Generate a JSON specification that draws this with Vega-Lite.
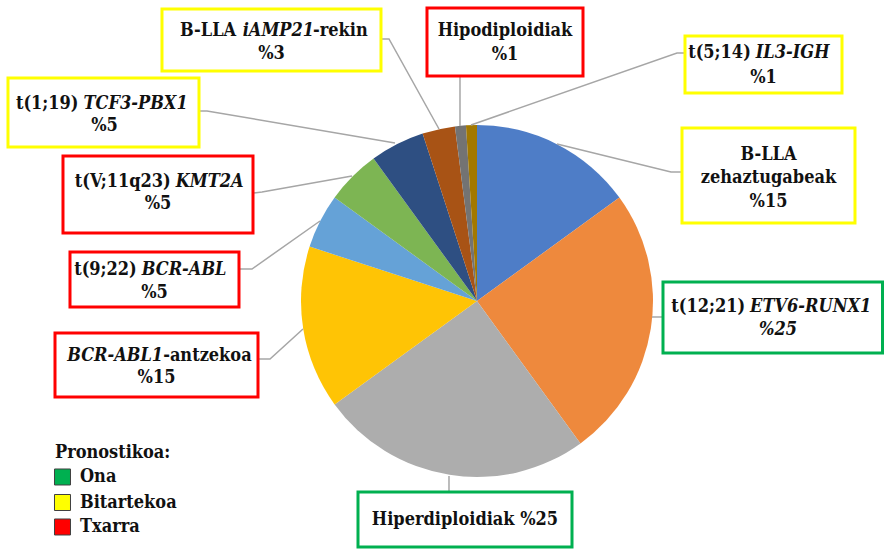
{
  "$schema": "https://vega.github.io/schema/vega-lite/v6.json",
  "width": 885,
  "height": 549,
  "autosize": {"type": "fit", "contains": "padding"},
  "padding": 0,
  "background": "white",
  "config": {"view": {"stroke": null}, "text": {"font": "DejaVu Serif Condensed", "fontSize": 18, "fontWeight": "bold", "baseline": "middle", "color": "#111111"}},
  "datasets": {
    "slices": [
      {"name": "B-LLA zehaztugabeak", "value": 15, "idx": 1},
      {"name": "t(12;21) ETV6-RUNX1", "value": 25, "idx": 2},
      {"name": "Hiperdiploidiak", "value": 25, "idx": 3},
      {"name": "BCR-ABL1-antzekoa", "value": 15, "idx": 4},
      {"name": "t(9;22) BCR-ABL", "value": 5, "idx": 5},
      {"name": "t(V;11q23) KMT2A", "value": 5, "idx": 6},
      {"name": "t(1;19) TCF3-PBX1", "value": 5, "idx": 7},
      {"name": "B-LLA iAMP21-rekin", "value": 3, "idx": 8},
      {"name": "Hipodiploidiak", "value": 1, "idx": 9},
      {"name": "t(5;14) IL3-IGH", "value": 1, "idx": 10}
    ],
    "boxes": [
      {"id": "A", "prognosis": "Bitartekoa", "x": -178.98, "x2": -54.55, "y": 165.91, "y2": 130.68},
      {"id": "B", "prognosis": "Txarra", "x": -28.41, "x2": 60.23, "y": 166.48, "y2": 127.84},
      {"id": "C", "prognosis": "Bitartekoa", "x": 118.18, "x2": 207.39, "y": 150.57, "y2": 118.18},
      {"id": "D", "prognosis": "Bitartekoa", "x": 116.48, "x2": 214.77, "y": 98.3, "y2": 44.32},
      {"id": "E", "prognosis": "Ona", "x": 105.68, "x2": 230.4, "y": 10.8, "y2": -29.55},
      {"id": "F", "prognosis": "Ona", "x": -67.61, "x2": 53.98, "y": -108.52, "y2": -139.77},
      {"id": "G", "prognosis": "Txarra", "x": -239.77, "x2": -124.43, "y": -18.18, "y2": -54.55},
      {"id": "H", "prognosis": "Txarra", "x": -231.25, "x2": -135.23, "y": 27.84, "y2": -3.41},
      {"id": "I", "prognosis": "Txarra", "x": -235.23, "x2": -127.27, "y": 82.39, "y2": 38.64},
      {"id": "J", "prognosis": "Bitartekoa", "x": -266.48, "x2": -157.95, "y": 126.7, "y2": 87.5}
    ],
    "texts": [
      {"x": -152.8, "y": 153.41, "text": "B-LLA", "kind": "plain", "seg": "whole"},
      {"x": -112.84, "y": 153.41, "text": "iAMP21", "kind": "gene", "seg": "whole"},
      {"x": -77.6, "y": 153.41, "text": "-rekin", "kind": "plain", "seg": "whole"},
      {"x": -116.76, "y": 140.34, "text": "%3", "kind": "plain", "seg": "whole"},
      {"x": 15.91, "y": 153.13, "text": "Hipodiploidiak", "kind": "plain", "seg": "whole"},
      {"x": 15.91, "y": 139.77, "text": "%1", "kind": "plain", "seg": "whole"},
      {"x": 155.57, "y": 140.91, "text": "t(5;14)", "kind": "plain", "seg": "before"},
      {"x": 158.41, "y": 140.91, "text": "IL3-IGH", "kind": "gene", "seg": "after"},
      {"x": 162.78, "y": 126.7, "text": "%1", "kind": "plain", "seg": "whole"},
      {"x": 165.63, "y": 82.95, "text": "B-LLA", "kind": "plain", "seg": "whole"},
      {"x": 165.63, "y": 69.89, "text": "zehaztugabeak", "kind": "plain", "seg": "whole"},
      {"x": 165.63, "y": 56.53, "text": "%15", "kind": "plain", "seg": "whole"},
      {"x": 152.33, "y": -3.41, "text": "t(12;21)", "kind": "plain", "seg": "before"},
      {"x": 155.17, "y": -3.41, "text": "ETV6-RUNX1", "kind": "gene", "seg": "after"},
      {"x": 171.02, "y": -16.48, "text": "%25", "kind": "gene", "seg": "whole"},
      {"x": -6.82, "y": -124.43, "text": "Hiperdiploidiak %25", "kind": "plain", "seg": "whole"},
      {"x": -178.32, "y": -31.25, "text": "BCR-ABL1", "kind": "gene", "seg": "before"},
      {"x": -178.32, "y": -31.25, "text": "-antzekoa", "kind": "plain", "seg": "after"},
      {"x": -182.1, "y": -43.75, "text": "%15", "kind": "plain", "seg": "whole"},
      {"x": -193.32, "y": 17.61, "text": "t(9;22)", "kind": "plain", "seg": "before"},
      {"x": -190.48, "y": 17.61, "text": "BCR-ABL", "kind": "gene", "seg": "after"},
      {"x": -183.24, "y": 4.55, "text": "%5", "kind": "plain", "seg": "whole"},
      {"x": -174.01, "y": 67.61, "text": "t(V;11q23)", "kind": "plain", "seg": "before"},
      {"x": -171.16, "y": 67.61, "text": "KMT2A", "kind": "gene", "seg": "after"},
      {"x": -181.25, "y": 55.11, "text": "%5", "kind": "plain", "seg": "whole"},
      {"x": -226.4, "y": 111.93, "text": "t(1;19)", "kind": "plain", "seg": "before"},
      {"x": -223.56, "y": 111.93, "text": "TCF3-PBX1", "kind": "gene", "seg": "after"},
      {"x": -211.65, "y": 99.15, "text": "%5", "kind": "plain", "seg": "whole"}
    ],
    "leaders": [
      {"leader": "A", "ord": 1, "x": -54.55, "y": 148.86},
      {"leader": "A", "ord": 2, "x": -50.0, "y": 148.86},
      {"leader": "A", "ord": 3, "x": -21.59, "y": 97.73},
      {"leader": "B", "ord": 1, "x": -9.66, "y": 127.84},
      {"leader": "B", "ord": 2, "x": -9.66, "y": 99.43},
      {"leader": "C", "ord": 1, "x": 118.18, "y": 140.91},
      {"leader": "C", "ord": 2, "x": 113.64, "y": 140.91},
      {"leader": "C", "ord": 3, "x": -3.41, "y": 100.0},
      {"leader": "D", "ord": 1, "x": 116.48, "y": 73.3},
      {"leader": "D", "ord": 2, "x": 110.23, "y": 73.3},
      {"leader": "D", "ord": 3, "x": 45.45, "y": 89.2},
      {"leader": "E", "ord": 1, "x": 105.68, "y": -9.09},
      {"leader": "E", "ord": 2, "x": 99.43, "y": -9.09},
      {"leader": "F", "ord": 1, "x": -15.91, "y": -108.52},
      {"leader": "F", "ord": 2, "x": -15.91, "y": -99.43},
      {"leader": "G", "ord": 1, "x": -124.43, "y": -32.95},
      {"leader": "G", "ord": 2, "x": -117.61, "y": -32.95},
      {"leader": "G", "ord": 3, "x": -98.86, "y": -15.91},
      {"leader": "H", "ord": 1, "x": -135.23, "y": 18.18},
      {"leader": "H", "ord": 2, "x": -127.84, "y": 18.18},
      {"leader": "H", "ord": 3, "x": -89.2, "y": 45.45},
      {"leader": "I", "ord": 1, "x": -127.27, "y": 61.36},
      {"leader": "I", "ord": 2, "x": -122.16, "y": 61.93},
      {"leader": "I", "ord": 3, "x": -71.02, "y": 71.02},
      {"leader": "J", "ord": 1, "x": -157.95, "y": 107.95},
      {"leader": "J", "ord": 2, "x": -153.41, "y": 107.95},
      {"leader": "J", "ord": 3, "x": -46.59, "y": 89.77}
    ],
    "legend": [
      {"prognosis": "Ona", "x": -235.51, "y": -100.0, "tx": -225.57},
      {"prognosis": "Bitartekoa", "x": -235.51, "y": -114.49, "tx": -225.57},
      {"prognosis": "Txarra", "x": -235.51, "y": -128.41, "tx": -225.57}
    ]
  },
  "layer": [
    {
      "data": {"name": "slices"},
      "mark": {"type": "arc", "outerRadius": 176},
      "encoding": {
        "theta": {"field": "value", "type": "quantitative", "stack": true},
        "order": {"field": "idx", "type": "quantitative"},
        "color": {
          "field": "name", "type": "nominal", "legend": null,
          "scale": {
            "domain": ["B-LLA zehaztugabeak", "t(12;21) ETV6-RUNX1", "Hiperdiploidiak", "BCR-ABL1-antzekoa", "t(9;22) BCR-ABL", "t(V;11q23) KMT2A", "t(1;19) TCF3-PBX1", "B-LLA iAMP21-rekin", "Hipodiploidiak", "t(5;14) IL3-IGH"],
            "range": ["#4E7DC7", "#EE893D", "#ADADAD", "#FFC405", "#65A2D7", "#7DB553", "#2E4F82", "#A85315", "#737373", "#A27800"]
          }
        },
        "x": {"datum": 0, "type": "quantitative", "scale": {"domain": [-271.02, 231.82], "nice": false, "zero": false}, "axis": null},
        "y": {"datum": 0, "type": "quantitative", "scale": {"domain": [-140.91, 171.02], "nice": false, "zero": false}, "axis": null}
      }
    },
    {
      "data": {"name": "leaders"},
      "mark": {"type": "line", "color": "#A6A6A6", "strokeWidth": 1.5},
      "encoding": {
        "x": {"field": "x", "type": "quantitative", "scale": {"domain": [-271.02, 231.82], "nice": false, "zero": false}, "axis": null},
        "y": {"field": "y", "type": "quantitative", "scale": {"domain": [-140.91, 171.02], "nice": false, "zero": false}, "axis": null},
        "detail": {"field": "leader", "type": "nominal"},
        "order": {"field": "ord", "type": "quantitative"}
      }
    },
    {
      "data": {"name": "boxes"},
      "mark": {"type": "rect", "fill": "white", "strokeWidth": 3},
      "encoding": {
        "x": {"field": "x", "type": "quantitative", "scale": {"domain": [-271.02, 231.82], "nice": false, "zero": false}, "axis": null},
        "x2": {"field": "x2"},
        "y": {"field": "y", "type": "quantitative", "scale": {"domain": [-140.91, 171.02], "nice": false, "zero": false}, "axis": null},
        "y2": {"field": "y2"},
        "stroke": {"field": "prognosis", "type": "nominal", "legend": null, "scale": {"domain": ["Ona", "Bitartekoa", "Txarra"], "range": ["#00B050", "#FFFF00", "#FF0000"]}}
      }
    },
    {
      "data": {"name": "texts"},
      "transform": [{"filter": "datum.kind === 'plain' && datum.seg === 'whole'"}],
      "mark": {"type": "text", "align": "center"},
      "encoding": {
        "x": {"field": "x", "type": "quantitative", "scale": {"domain": [-271.02, 231.82], "nice": false, "zero": false}, "axis": null},
        "y": {"field": "y", "type": "quantitative", "scale": {"domain": [-140.91, 171.02], "nice": false, "zero": false}, "axis": null},
        "text": {"field": "text", "type": "nominal"}
      }
    },
    {
      "data": {"name": "texts"},
      "transform": [{"filter": "datum.kind === 'gene' && datum.seg === 'whole'"}],
      "mark": {"type": "text", "align": "center", "fontStyle": "italic"},
      "encoding": {
        "x": {"field": "x", "type": "quantitative", "scale": {"domain": [-271.02, 231.82], "nice": false, "zero": false}, "axis": null},
        "y": {"field": "y", "type": "quantitative", "scale": {"domain": [-140.91, 171.02], "nice": false, "zero": false}, "axis": null},
        "text": {"field": "text", "type": "nominal"}
      }
    },
    {
      "data": {"name": "texts"},
      "transform": [{"filter": "datum.kind === 'plain' && datum.seg === 'before'"}],
      "mark": {"type": "text", "align": "right"},
      "encoding": {
        "x": {"field": "x", "type": "quantitative", "scale": {"domain": [-271.02, 231.82], "nice": false, "zero": false}, "axis": null},
        "y": {"field": "y", "type": "quantitative", "scale": {"domain": [-140.91, 171.02], "nice": false, "zero": false}, "axis": null},
        "text": {"field": "text", "type": "nominal"}
      }
    },
    {
      "data": {"name": "texts"},
      "transform": [{"filter": "datum.kind === 'gene' && datum.seg === 'before'"}],
      "mark": {"type": "text", "align": "right", "fontStyle": "italic"},
      "encoding": {
        "x": {"field": "x", "type": "quantitative", "scale": {"domain": [-271.02, 231.82], "nice": false, "zero": false}, "axis": null},
        "y": {"field": "y", "type": "quantitative", "scale": {"domain": [-140.91, 171.02], "nice": false, "zero": false}, "axis": null},
        "text": {"field": "text", "type": "nominal"}
      }
    },
    {
      "data": {"name": "texts"},
      "transform": [{"filter": "datum.kind === 'plain' && datum.seg === 'after'"}],
      "mark": {"type": "text", "align": "left"},
      "encoding": {
        "x": {"field": "x", "type": "quantitative", "scale": {"domain": [-271.02, 231.82], "nice": false, "zero": false}, "axis": null},
        "y": {"field": "y", "type": "quantitative", "scale": {"domain": [-140.91, 171.02], "nice": false, "zero": false}, "axis": null},
        "text": {"field": "text", "type": "nominal"}
      }
    },
    {
      "data": {"name": "texts"},
      "transform": [{"filter": "datum.kind === 'gene' && datum.seg === 'after'"}],
      "mark": {"type": "text", "align": "left", "fontStyle": "italic"},
      "encoding": {
        "x": {"field": "x", "type": "quantitative", "scale": {"domain": [-271.02, 231.82], "nice": false, "zero": false}, "axis": null},
        "y": {"field": "y", "type": "quantitative", "scale": {"domain": [-140.91, 171.02], "nice": false, "zero": false}, "axis": null},
        "text": {"field": "text", "type": "nominal"}
      }
    },
    {
      "data": {"name": "legend"},
      "mark": {"type": "square", "size": 256, "filled": true, "stroke": "#404040", "strokeWidth": 1, "opacity": 1},
      "encoding": {
        "x": {"field": "x", "type": "quantitative", "scale": {"domain": [-271.02, 231.82], "nice": false, "zero": false}, "axis": null},
        "y": {"field": "y", "type": "quantitative", "scale": {"domain": [-140.91, 171.02], "nice": false, "zero": false}, "axis": null},
        "fill": {"field": "prognosis", "type": "nominal", "legend": null, "scale": {"domain": ["Ona", "Bitartekoa", "Txarra"], "range": ["#00B050", "#FFFF00", "#FF0000"]}}
      }
    },
    {
      "data": {"name": "legend"},
      "mark": {"type": "text", "align": "left"},
      "encoding": {
        "x": {"field": "tx", "type": "quantitative", "scale": {"domain": [-271.02, 231.82], "nice": false, "zero": false}, "axis": null},
        "y": {"field": "y", "type": "quantitative", "scale": {"domain": [-140.91, 171.02], "nice": false, "zero": false}, "axis": null},
        "text": {"field": "prognosis", "type": "nominal"}
      }
    },
    {
      "data": {"values": [{"title": "Pronostikoa:", "x": -239.77, "y": -86.36}]},
      "mark": {"type": "text", "align": "left"},
      "encoding": {
        "x": {"field": "x", "type": "quantitative", "scale": {"domain": [-271.02, 231.82], "nice": false, "zero": false}, "axis": null},
        "y": {"field": "y", "type": "quantitative", "scale": {"domain": [-140.91, 171.02], "nice": false, "zero": false}, "axis": null},
        "text": {"field": "title", "type": "nominal"}
      }
    }
  ]
}
